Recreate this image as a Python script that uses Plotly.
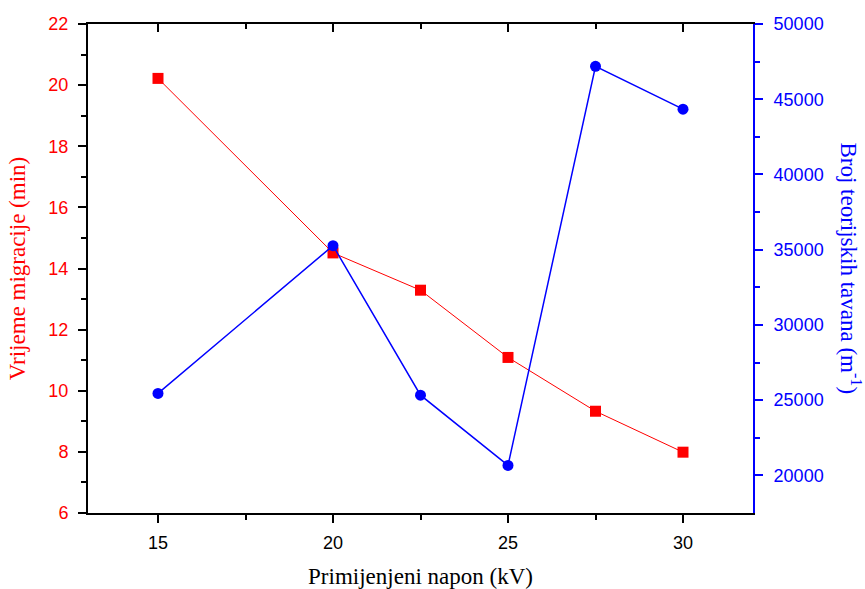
import plotly.graph_objects as go

napon = [15, 20, 22.5, 25, 27.5, 30]
vrijeme = [20.22, 14.51, 13.29, 11.09, 9.33, 7.99]
tavani = [25450, 35270, 25330, 20660, 47190, 44340]

x_range = [13, 32]
y1_range = [6, 22]
y2_range = [17500, 50000]

RED = "#ff0000"
BLUE = "#0000ff"
tickfont = dict(family="Liberation Sans, Arial", size=18)
titlefont = dict(family="Liberation Serif, Times New Roman", size=23)

fig = go.Figure()
fig.add_trace(go.Scatter(x=napon, y=vrijeme, mode="lines+markers",
                         line=dict(color=RED, width=1),
                         marker=dict(symbol="square", size=11, color=RED),
                         yaxis="y", xaxis="x", showlegend=False))
fig.add_trace(go.Scatter(x=napon, y=tavani, mode="lines+markers",
                         line=dict(color=BLUE, width=1.5),
                         marker=dict(symbol="circle", size=11, color=BLUE),
                         yaxis="y2", xaxis="x", showlegend=False))
fig.add_trace(go.Scatter(x=[napon[0]], y=[vrijeme[0]], mode="markers", opacity=0,
                         hoverinfo="skip", xaxis="x2", yaxis="y", showlegend=False))

fig.update_layout(
    width=865, height=589,
    margin=dict(l=88, r=112, t=24, b=76, autoexpand=False),
    paper_bgcolor="white", plot_bgcolor="white",
    xaxis=dict(range=x_range, tickvals=[15, 20, 25, 30], ticks="outside",
               ticklen=8, tickwidth=2, tickcolor="black", automargin=False,
               ticklabelstandoff=4,
               showline=True, linecolor="black", linewidth=2,
               showgrid=False, zeroline=False,
               tickfont=dict(tickfont, color="black"),
               minor=dict(tickvals=[17.5, 22.5, 27.5], ticks="outside", ticklen=5,
                          tickwidth=2, tickcolor="black"),
               title=dict(text="Primijenjeni napon (kV)", font=dict(titlefont, color="black"),
                          standoff=18)),
    xaxis2=dict(range=x_range, overlaying="x", side="top", anchor="y",
                tickvals=[15, 20, 25, 30], ticks="inside", ticklen=8, tickwidth=2,
                tickcolor="black", showticklabels=False, automargin=False,
                showline=True, linecolor="black", linewidth=2,
                showgrid=False, zeroline=False,
                minor=dict(tickvals=[17.5, 22.5, 27.5], ticks="inside", ticklen=5,
                           tickwidth=2, tickcolor="black")),
    yaxis=dict(range=y1_range, tickvals=list(range(6, 23, 2)), ticks="outside",
               ticklen=8, tickwidth=2, tickcolor="black", automargin=False,
               ticklabelstandoff=6,
               showline=True, linecolor="black", linewidth=2,
               showgrid=False, zeroline=False,
               tickfont=dict(tickfont, color=RED),
               minor=dict(tickvals=list(range(7, 22, 2)), ticks="outside", ticklen=5,
                          tickwidth=2, tickcolor="black"),
               title=dict(text="Vrijeme migracije (min)", font=dict(titlefont, color=RED),
                          standoff=16)),
    yaxis2=dict(range=y2_range, overlaying="y", side="right", anchor="x",
                tickvals=list(range(20000, 50001, 5000)), tickformat="d", ticks="outside",
                ticklen=8, tickwidth=2, tickcolor=BLUE, automargin=False,
                ticklabelstandoff=7,
                showline=True, linecolor=BLUE, linewidth=2,
                showgrid=False, zeroline=False,
                tickfont=dict(tickfont, color=BLUE),
                minor=dict(tickvals=list(range(22500, 50000, 5000)), ticks="outside",
                           ticklen=5, tickwidth=2, tickcolor=BLUE)),
    annotations=[dict(text="Broj teorijskih tavana (m<sup>-1</sup>)", textangle=90,
                      xref="paper", yref="paper", x=1.146, y=0.5, showarrow=False,
                      xanchor="center", yanchor="middle",
                      font=dict(titlefont, color=BLUE))],
)

fig.write_html("out.html", config={"displayModeBar": False},
               post_script="document.body.style.margin='0px';document.body.style.overflow='hidden';")
